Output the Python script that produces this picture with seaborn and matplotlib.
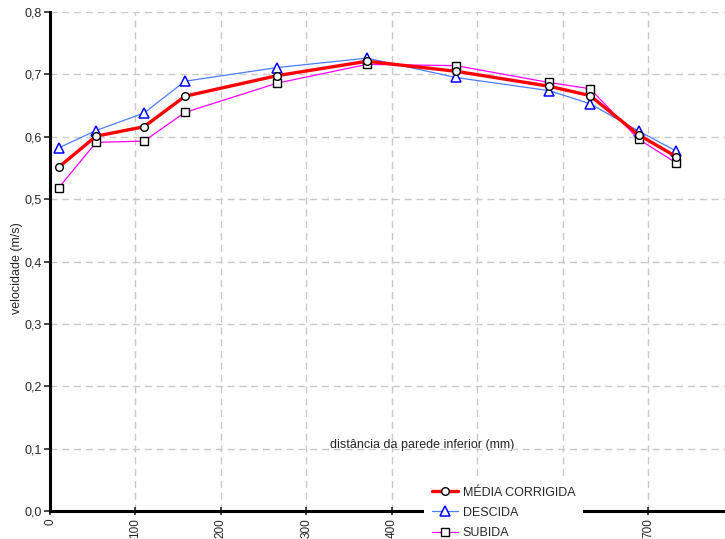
import numpy as np
import pandas as pd
import matplotlib
matplotlib.use("Agg")
import matplotlib.pyplot as plt
from matplotlib.ticker import FuncFormatter
import seaborn as sns

# distancia da parede inferior (mm) e velocidades (m/s)
distancia = [10, 54, 110, 158, 266, 371, 475, 584, 632, 689, 733]
media_corrigida = [0.551, 0.601, 0.616, 0.665, 0.698, 0.721, 0.705, 0.681, 0.666, 0.603, 0.568]
descida = [0.582, 0.610, 0.638, 0.689, 0.711, 0.726, 0.695, 0.674, 0.653, 0.609, 0.577]
subida = [0.518, 0.591, 0.593, 0.639, 0.686, 0.716, 0.714, 0.687, 0.677, 0.596, 0.558]

x_ticks = [0, 100, 200, 300, 400, 500, 600, 700]
y_ticks = [0.0, 0.1, 0.2, 0.3, 0.4, 0.5, 0.6, 0.7, 0.8]

sns.set_style("white")
plt.rcParams["font.family"] = ["Liberation Sans", "DejaVu Sans"]

fig = plt.figure(figsize=(7.25, 5.39), dpi=100)
ax = fig.add_axes([50 / 725, 28 / 539, 675 / 725, 499 / 539])

# series
sns.lineplot(x=distancia, y=descida, ax=ax, sort=False, color="#4A7DFF", linewidth=0.9,
             marker="^", markersize=6.5, markerfacecolor="white", markeredgecolor="#0000FF",
             markeredgewidth=1.1, label="DESCIDA", zorder=3)
sns.lineplot(x=distancia, y=subida, ax=ax, sort=False, color="#FF00FF", linewidth=0.9,
             marker="s", markersize=5.5, markerfacecolor="white", markeredgecolor="black",
             markeredgewidth=1.0, label="SUBIDA", zorder=3)
sns.lineplot(x=distancia, y=media_corrigida, ax=ax, sort=False, color="#FF0000", linewidth=2.4,
             marker="o", markersize=5.5, markerfacecolor="white", markeredgecolor="black",
             markeredgewidth=1.0, label="MÉDIA CORRIGIDA", zorder=4)

ax.set_xlim(0, 790)
ax.set_ylim(0, 0.8)
ax.set_xticks(x_ticks)
ax.set_yticks(y_ticks)
ax.xaxis.set_major_formatter(FuncFormatter(lambda v, p: f"{v:.0f}"))
ax.yaxis.set_major_formatter(FuncFormatter(lambda v, p: f"{v:.1f}".replace(".", ",")))
ax.tick_params(axis="x", labelrotation=90, labelsize=8.5, direction="inout", length=6, width=1.2, pad=2)
ax.tick_params(axis="y", labelsize=9, direction="out", length=4, width=1.2, pad=2, left=True)
ax.tick_params(axis="x", bottom=True)

ax.grid(True, color="#C8C8C8", linestyle=(0, (5, 3.5)), linewidth=1.0)
ax.set_axisbelow(True)
sns.despine(ax=ax)
for s in ["left", "bottom"]:
    ax.spines[s].set_linewidth(2.2)
    ax.spines[s].set_color("black")

ax.set_xlabel("distância da parede inferior (mm)", fontsize=9)
ax.xaxis.set_label_coords((422 - 50) / 675, (511 - 445) / 499)
ax.set_ylabel("velocidade (m/s)", fontsize=9)
ax.yaxis.set_label_coords((17 - 50) / 675, (511 - 268) / 499)
ax.yaxis.label.set_va("center")
ax.xaxis.label.set_va("center")

handles, labels = ax.get_legend_handles_labels()
order = [2, 0, 1]
leg = ax.legend([handles[i] for i in order], [labels[i] for i in order],
                loc="upper left", bbox_to_anchor=(424 / 725, 1 - 479 / 539),
                bbox_transform=fig.transFigure, fontsize=9, frameon=True,
                borderpad=0.6, labelspacing=0.66, handlelength=2.1, handletextpad=0.4,
                borderaxespad=0, fancybox=False)
leg.get_frame().set_facecolor("white")
leg.get_frame().set_edgecolor("none")
leg.get_frame().set_alpha(1)

fig.savefig("out.png", dpi=100)
